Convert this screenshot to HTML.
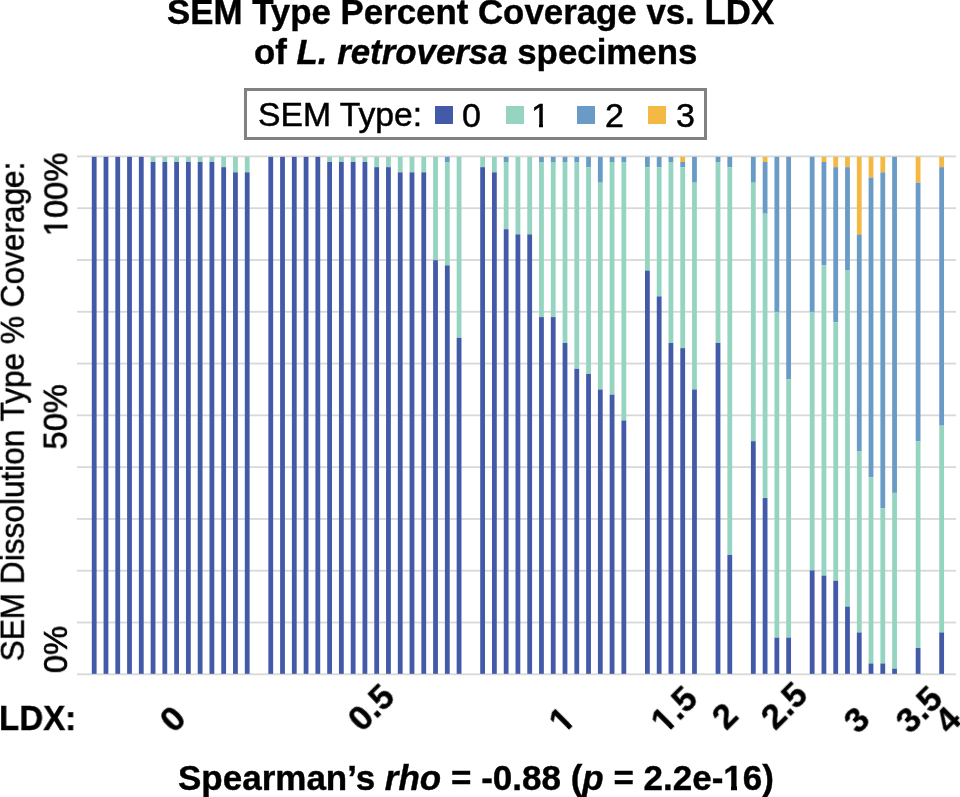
<!DOCTYPE html>
<html><head><meta charset="utf-8"><style>
html,body{margin:0;padding:0;background:#fff;}
body{width:960px;height:797px;position:relative;overflow:hidden;font-family:"Liberation Sans",sans-serif;color:#000;}
.t{position:absolute;white-space:nowrap;line-height:1;will-change:transform;}
.b{font-weight:bold;-webkit-text-stroke:0.4px #000;}
.s{-webkit-text-stroke:0.5px #000;}
svg{position:absolute;left:0;top:0;}
.lg{position:absolute;left:244.1px;top:88.1px;width:457.1px;height:46px;border:3.4px solid #818181;background:#fff;}
.sq{position:absolute;top:106px;width:18px;height:18px;}
.xl{position:absolute;white-space:nowrap;font-weight:bold;font-size:35px;-webkit-text-stroke:0.4px #000;line-height:1;transform-origin:0 0;transform:rotate(-45deg);will-change:transform;}
.o{position:relative;}
.o::before,.o::after{content:"";position:absolute;background:#fff;top:0.79em;height:0.2em;}
.o::before{left:0.03em;width:0.192em;}
.o::after{left:0.384em;width:0.181em;}
.r.o::before{left:0.0em;width:0.238em;top:0.76em;height:0.25em;}
.r.o::after{left:0.353em;width:0.21em;top:0.76em;height:0.25em;}
</style></head><body>
<svg width="960" height="797" viewBox="0 0 960 797">
<rect x="77" y="155.50" width="879" height="1.8" fill="#d8d8d6"/><rect x="77" y="207.29" width="879" height="1.8" fill="#d8d8d6"/><rect x="77" y="259.08" width="879" height="1.8" fill="#d8d8d6"/><rect x="77" y="310.87" width="879" height="1.8" fill="#d8d8d6"/><rect x="77" y="362.66" width="879" height="1.8" fill="#d8d8d6"/><rect x="77" y="414.45" width="879" height="1.8" fill="#d8d8d6"/><rect x="77" y="466.24" width="879" height="1.8" fill="#d8d8d6"/><rect x="77" y="518.03" width="879" height="1.8" fill="#d8d8d6"/><rect x="77" y="569.82" width="879" height="1.8" fill="#d8d8d6"/><rect x="77" y="621.61" width="879" height="1.8" fill="#d8d8d6"/><rect x="77" y="673.40" width="879" height="1.8" fill="#d8d8d6"/>
<rect x="91.80" y="156.83" width="4.8" height="517.00" fill="#435aa9"/><rect x="103.57" y="156.83" width="4.8" height="517.00" fill="#435aa9"/><rect x="115.34" y="156.83" width="4.8" height="517.00" fill="#435aa9"/><rect x="127.11" y="156.83" width="4.8" height="517.00" fill="#435aa9"/><rect x="138.88" y="156.83" width="4.8" height="517.00" fill="#435aa9"/><rect x="150.65" y="156.83" width="4.8" height="5.17" fill="#96d4c2"/><rect x="150.65" y="162.00" width="4.8" height="511.83" fill="#435aa9"/><rect x="162.42" y="156.83" width="4.8" height="5.17" fill="#96d4c2"/><rect x="162.42" y="162.00" width="4.8" height="511.83" fill="#435aa9"/><rect x="174.19" y="156.83" width="4.8" height="5.17" fill="#96d4c2"/><rect x="174.19" y="162.00" width="4.8" height="511.83" fill="#435aa9"/><rect x="185.96" y="156.83" width="4.8" height="5.17" fill="#96d4c2"/><rect x="185.96" y="162.00" width="4.8" height="511.83" fill="#435aa9"/><rect x="197.73" y="156.83" width="4.8" height="5.17" fill="#96d4c2"/><rect x="197.73" y="162.00" width="4.8" height="511.83" fill="#435aa9"/><rect x="209.50" y="156.83" width="4.8" height="5.17" fill="#96d4c2"/><rect x="209.50" y="162.00" width="4.8" height="511.83" fill="#435aa9"/><rect x="221.27" y="156.83" width="4.8" height="10.34" fill="#96d4c2"/><rect x="221.27" y="167.17" width="4.8" height="506.66" fill="#435aa9"/><rect x="233.04" y="156.83" width="4.8" height="15.51" fill="#96d4c2"/><rect x="233.04" y="172.34" width="4.8" height="501.49" fill="#435aa9"/><rect x="244.81" y="156.83" width="4.8" height="15.51" fill="#96d4c2"/><rect x="244.81" y="172.34" width="4.8" height="501.49" fill="#435aa9"/><rect x="268.35" y="156.83" width="4.8" height="517.00" fill="#435aa9"/><rect x="280.12" y="156.83" width="4.8" height="517.00" fill="#435aa9"/><rect x="291.89" y="156.83" width="4.8" height="517.00" fill="#435aa9"/><rect x="303.66" y="156.83" width="4.8" height="517.00" fill="#435aa9"/><rect x="315.43" y="156.83" width="4.8" height="517.00" fill="#435aa9"/><rect x="327.20" y="156.83" width="4.8" height="5.17" fill="#96d4c2"/><rect x="327.20" y="162.00" width="4.8" height="511.83" fill="#435aa9"/><rect x="338.97" y="156.83" width="4.8" height="5.17" fill="#96d4c2"/><rect x="338.97" y="162.00" width="4.8" height="511.83" fill="#435aa9"/><rect x="350.74" y="156.83" width="4.8" height="5.17" fill="#96d4c2"/><rect x="350.74" y="162.00" width="4.8" height="511.83" fill="#435aa9"/><rect x="362.51" y="156.83" width="4.8" height="5.17" fill="#96d4c2"/><rect x="362.51" y="162.00" width="4.8" height="511.83" fill="#435aa9"/><rect x="374.28" y="156.83" width="4.8" height="10.34" fill="#96d4c2"/><rect x="374.28" y="167.17" width="4.8" height="506.66" fill="#435aa9"/><rect x="386.05" y="156.83" width="4.8" height="10.34" fill="#96d4c2"/><rect x="386.05" y="167.17" width="4.8" height="506.66" fill="#435aa9"/><rect x="397.82" y="156.83" width="4.8" height="15.51" fill="#96d4c2"/><rect x="397.82" y="172.34" width="4.8" height="501.49" fill="#435aa9"/><rect x="409.59" y="156.83" width="4.8" height="15.51" fill="#96d4c2"/><rect x="409.59" y="172.34" width="4.8" height="501.49" fill="#435aa9"/><rect x="421.36" y="156.83" width="4.8" height="15.51" fill="#96d4c2"/><rect x="421.36" y="172.34" width="4.8" height="501.49" fill="#435aa9"/><rect x="433.13" y="156.83" width="4.8" height="103.40" fill="#96d4c2"/><rect x="433.13" y="260.23" width="4.8" height="413.60" fill="#435aa9"/><rect x="444.90" y="156.83" width="4.8" height="5.17" fill="#6a9bc6"/><rect x="444.90" y="162.00" width="4.8" height="103.40" fill="#96d4c2"/><rect x="444.90" y="265.40" width="4.8" height="408.43" fill="#435aa9"/><rect x="456.67" y="156.83" width="4.8" height="180.95" fill="#96d4c2"/><rect x="456.67" y="337.78" width="4.8" height="336.05" fill="#435aa9"/><rect x="480.21" y="156.83" width="4.8" height="10.34" fill="#96d4c2"/><rect x="480.21" y="167.17" width="4.8" height="506.66" fill="#435aa9"/><rect x="491.98" y="156.83" width="4.8" height="15.51" fill="#96d4c2"/><rect x="491.98" y="172.34" width="4.8" height="501.49" fill="#435aa9"/><rect x="503.75" y="156.83" width="4.8" height="5.17" fill="#6a9bc6"/><rect x="503.75" y="162.00" width="4.8" height="67.21" fill="#96d4c2"/><rect x="503.75" y="229.21" width="4.8" height="444.62" fill="#435aa9"/><rect x="515.52" y="156.83" width="4.8" height="77.55" fill="#96d4c2"/><rect x="515.52" y="234.38" width="4.8" height="439.45" fill="#435aa9"/><rect x="527.29" y="156.83" width="4.8" height="77.55" fill="#96d4c2"/><rect x="527.29" y="234.38" width="4.8" height="439.45" fill="#435aa9"/><rect x="539.06" y="156.83" width="4.8" height="5.17" fill="#6a9bc6"/><rect x="539.06" y="162.00" width="4.8" height="155.10" fill="#96d4c2"/><rect x="539.06" y="317.10" width="4.8" height="356.73" fill="#435aa9"/><rect x="550.83" y="156.83" width="4.8" height="5.17" fill="#6a9bc6"/><rect x="550.83" y="162.00" width="4.8" height="155.10" fill="#96d4c2"/><rect x="550.83" y="317.10" width="4.8" height="356.73" fill="#435aa9"/><rect x="562.60" y="156.83" width="4.8" height="5.17" fill="#6a9bc6"/><rect x="562.60" y="162.00" width="4.8" height="180.95" fill="#96d4c2"/><rect x="562.60" y="342.95" width="4.8" height="330.88" fill="#435aa9"/><rect x="574.37" y="156.83" width="4.8" height="5.17" fill="#6a9bc6"/><rect x="574.37" y="162.00" width="4.8" height="206.80" fill="#96d4c2"/><rect x="574.37" y="368.80" width="4.8" height="305.03" fill="#435aa9"/><rect x="586.14" y="156.83" width="4.8" height="10.34" fill="#6a9bc6"/><rect x="586.14" y="167.17" width="4.8" height="206.80" fill="#96d4c2"/><rect x="586.14" y="373.97" width="4.8" height="299.86" fill="#435aa9"/><rect x="597.91" y="156.83" width="4.8" height="25.85" fill="#6a9bc6"/><rect x="597.91" y="182.68" width="4.8" height="206.80" fill="#96d4c2"/><rect x="597.91" y="389.48" width="4.8" height="284.35" fill="#435aa9"/><rect x="609.68" y="156.83" width="4.8" height="5.17" fill="#6a9bc6"/><rect x="609.68" y="162.00" width="4.8" height="232.65" fill="#96d4c2"/><rect x="609.68" y="394.65" width="4.8" height="279.18" fill="#435aa9"/><rect x="621.45" y="156.83" width="4.8" height="5.17" fill="#6a9bc6"/><rect x="621.45" y="162.00" width="4.8" height="258.50" fill="#96d4c2"/><rect x="621.45" y="420.50" width="4.8" height="253.33" fill="#435aa9"/><rect x="644.99" y="156.83" width="4.8" height="10.34" fill="#6a9bc6"/><rect x="644.99" y="167.17" width="4.8" height="103.40" fill="#96d4c2"/><rect x="644.99" y="270.57" width="4.8" height="403.26" fill="#435aa9"/><rect x="656.76" y="156.83" width="4.8" height="10.34" fill="#6a9bc6"/><rect x="656.76" y="167.17" width="4.8" height="129.25" fill="#96d4c2"/><rect x="656.76" y="296.42" width="4.8" height="377.41" fill="#435aa9"/><rect x="668.53" y="156.83" width="4.8" height="5.17" fill="#6a9bc6"/><rect x="668.53" y="162.00" width="4.8" height="180.95" fill="#96d4c2"/><rect x="668.53" y="342.95" width="4.8" height="330.88" fill="#435aa9"/><rect x="680.30" y="156.83" width="4.8" height="5.17" fill="#f3b942"/><rect x="680.30" y="162.00" width="4.8" height="5.17" fill="#6a9bc6"/><rect x="680.30" y="167.17" width="4.8" height="180.95" fill="#96d4c2"/><rect x="680.30" y="348.12" width="4.8" height="325.71" fill="#435aa9"/><rect x="692.07" y="156.83" width="4.8" height="25.85" fill="#6a9bc6"/><rect x="692.07" y="182.68" width="4.8" height="206.80" fill="#96d4c2"/><rect x="692.07" y="389.48" width="4.8" height="284.35" fill="#435aa9"/><rect x="715.61" y="156.83" width="4.8" height="5.17" fill="#6a9bc6"/><rect x="715.61" y="162.00" width="4.8" height="180.95" fill="#96d4c2"/><rect x="715.61" y="342.95" width="4.8" height="330.88" fill="#435aa9"/><rect x="727.38" y="156.83" width="4.8" height="10.34" fill="#6a9bc6"/><rect x="727.38" y="167.17" width="4.8" height="387.75" fill="#96d4c2"/><rect x="727.38" y="554.92" width="4.8" height="118.91" fill="#435aa9"/><rect x="750.92" y="156.83" width="4.8" height="25.85" fill="#6a9bc6"/><rect x="750.92" y="182.68" width="4.8" height="258.50" fill="#96d4c2"/><rect x="750.92" y="441.18" width="4.8" height="232.65" fill="#435aa9"/><rect x="762.69" y="156.83" width="4.8" height="5.17" fill="#f3b942"/><rect x="762.69" y="162.00" width="4.8" height="51.70" fill="#6a9bc6"/><rect x="762.69" y="213.70" width="4.8" height="284.35" fill="#96d4c2"/><rect x="762.69" y="498.05" width="4.8" height="175.78" fill="#435aa9"/><rect x="774.46" y="156.83" width="4.8" height="155.10" fill="#6a9bc6"/><rect x="774.46" y="311.93" width="4.8" height="325.71" fill="#96d4c2"/><rect x="774.46" y="637.64" width="4.8" height="36.19" fill="#435aa9"/><rect x="786.23" y="156.83" width="4.8" height="222.31" fill="#6a9bc6"/><rect x="786.23" y="379.14" width="4.8" height="258.50" fill="#96d4c2"/><rect x="786.23" y="637.64" width="4.8" height="36.19" fill="#435aa9"/><rect x="809.77" y="156.83" width="4.8" height="155.10" fill="#6a9bc6"/><rect x="809.77" y="311.93" width="4.8" height="258.50" fill="#96d4c2"/><rect x="809.77" y="570.43" width="4.8" height="103.40" fill="#435aa9"/><rect x="821.54" y="156.83" width="4.8" height="5.17" fill="#f3b942"/><rect x="821.54" y="162.00" width="4.8" height="103.40" fill="#6a9bc6"/><rect x="821.54" y="265.40" width="4.8" height="310.20" fill="#96d4c2"/><rect x="821.54" y="575.60" width="4.8" height="98.23" fill="#435aa9"/><rect x="833.31" y="156.83" width="4.8" height="10.34" fill="#f3b942"/><rect x="833.31" y="167.17" width="4.8" height="155.10" fill="#6a9bc6"/><rect x="833.31" y="322.27" width="4.8" height="258.50" fill="#96d4c2"/><rect x="833.31" y="580.77" width="4.8" height="93.06" fill="#435aa9"/><rect x="845.08" y="156.83" width="4.8" height="10.34" fill="#f3b942"/><rect x="845.08" y="167.17" width="4.8" height="103.40" fill="#6a9bc6"/><rect x="845.08" y="270.57" width="4.8" height="336.05" fill="#96d4c2"/><rect x="845.08" y="606.62" width="4.8" height="67.21" fill="#435aa9"/><rect x="856.85" y="156.83" width="4.8" height="77.55" fill="#f3b942"/><rect x="856.85" y="234.38" width="4.8" height="217.14" fill="#6a9bc6"/><rect x="856.85" y="451.52" width="4.8" height="180.95" fill="#96d4c2"/><rect x="856.85" y="632.47" width="4.8" height="41.36" fill="#435aa9"/><rect x="868.62" y="156.83" width="4.8" height="20.68" fill="#f3b942"/><rect x="868.62" y="177.51" width="4.8" height="299.86" fill="#6a9bc6"/><rect x="868.62" y="477.37" width="4.8" height="186.12" fill="#96d4c2"/><rect x="868.62" y="663.49" width="4.8" height="10.34" fill="#435aa9"/><rect x="880.39" y="156.83" width="4.8" height="15.51" fill="#f3b942"/><rect x="880.39" y="172.34" width="4.8" height="336.05" fill="#6a9bc6"/><rect x="880.39" y="508.39" width="4.8" height="155.10" fill="#96d4c2"/><rect x="880.39" y="663.49" width="4.8" height="10.34" fill="#435aa9"/><rect x="892.16" y="156.83" width="4.8" height="336.05" fill="#6a9bc6"/><rect x="892.16" y="492.88" width="4.8" height="175.78" fill="#96d4c2"/><rect x="892.16" y="668.66" width="4.8" height="5.17" fill="#435aa9"/><rect x="915.70" y="156.83" width="4.8" height="25.85" fill="#f3b942"/><rect x="915.70" y="182.68" width="4.8" height="258.50" fill="#6a9bc6"/><rect x="915.70" y="441.18" width="4.8" height="206.80" fill="#96d4c2"/><rect x="915.70" y="647.98" width="4.8" height="25.85" fill="#435aa9"/><rect x="939.24" y="156.83" width="4.8" height="10.34" fill="#f3b942"/><rect x="939.24" y="167.17" width="4.8" height="258.50" fill="#6a9bc6"/><rect x="939.24" y="425.67" width="4.8" height="206.80" fill="#96d4c2"/><rect x="939.24" y="632.47" width="4.8" height="41.36" fill="#435aa9"/>
</svg>
<div class="t b" id="t1" style="left:167.4px;top:-4.6px;font-size:34.85px;">SEM Type Percent Coverage vs. LDX</div>
<div class="t b" id="t2" style="left:254.3px;top:35.4px;font-size:34.85px;">of <i>L. retroversa</i> specimens</div>
<div class="lg"></div>
<div class="t s" id="lt" style="left:258px;top:98.3px;font-size:33.7px;">SEM Type:</div>
<div class="sq" style="left:435px;background:#435aa9"></div>
<div class="t s" style="left:462.3px;top:97.5px;font-size:34px;">0</div>
<div class="sq" style="left:506px;background:#96d4c2"></div>
<div class="t s" style="left:531px;top:97.5px;font-size:34px;"><span class="o r">1</span></div>
<div class="sq" style="left:577px;background:#6a9bc6"></div>
<div class="t s" style="left:604.5px;top:97.5px;font-size:34px;">2</div>
<div class="sq" style="left:648px;background:#f3b942"></div>
<div class="t s" style="left:675.5px;top:97.5px;font-size:34px;">3</div>
<div class="t s" id="yt" style="left:0;top:0;font-size:34px;transform-origin:0 0;transform:translate(-5.2px,661.3px) rotate(-90deg) scaleX(0.929);">SEM Dissolution Type % Coverage:</div>
<div class="t s" style="left:0;top:0;font-size:33.5px;transform-origin:0 0;transform:translate(39.3px,236.3px) rotate(-90deg) scaleX(0.975);-webkit-text-stroke:0.7px #000;"><span class="o r">1</span>00%</div>
<div class="t s" style="left:0;top:0;font-size:33.5px;transform-origin:0 0;transform:translate(38.7px,449.5px) rotate(-90deg) scaleX(0.975);-webkit-text-stroke:0.7px #000;">50%</div>
<div class="t s" style="left:0;top:0;font-size:33.5px;transform-origin:0 0;transform:translate(39px,673.2px) rotate(-90deg) scaleX(0.975);-webkit-text-stroke:0.7px #000;">0%</div>
<div class="t b" style="left:-1.4px;top:700.8px;font-size:34.3px;transform-origin:0 0;transform:scaleX(0.966);">LDX:</div>
<div class="xl" style="left:152.55px;top:712.65px;">0</div>
<div class="xl" style="left:340.60px;top:711.80px;">0.5</div>
<div class="xl" style="left:541.60px;top:713.50px;"><span class="o">1</span></div>
<div class="xl" style="left:644.35px;top:713.90px;"><span class="o">1</span>.5</div>
<div class="xl" style="left:704.60px;top:709.50px;">2</div>
<div class="xl" style="left:754.00px;top:710.40px;">2.5</div>
<div class="xl" style="left:836.70px;top:713.80px;">3</div>
<div class="xl" style="left:888.70px;top:713.80px;">3.5</div>
<div class="xl" style="left:927.70px;top:713.50px;">4</div>
<div class="t b" id="ft" style="left:178.2px;top:759.5px;font-size:35px;">Spearman’s <i>rho</i> = -0.88 (<i>p</i> = 2.2e-<span class="o">1</span>6)</div>
</body></html>
